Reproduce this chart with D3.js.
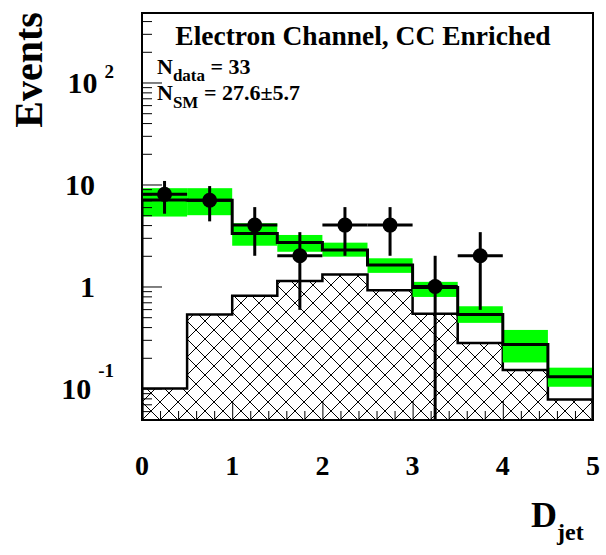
<!DOCTYPE html>
<html><head><meta charset="utf-8">
<script src="https://cdn.jsdelivr.net/npm/d3@7"></script>
<style>body{margin:0;background:#fff}svg{display:block}</style>
</head><body><svg id="c" width="606" height="555"></svg>
<script>
// ---- data ----
const binEdges = [0, 0.5, 1, 1.5, 2, 2.5, 3, 3.5, 4, 4.5, 5];
const smTotal  = [7.05, 7.0, 3.3, 2.7, 2.28, 1.62, 0.98, 0.53, 0.27, 0.13];
const smUp     = [9.2, 9.2, 4.17, 3.2, 2.69, 1.89, 1.11, 0.64, 0.375, 0.16];
const smDown   = [4.85, 5.0, 2.51, 2.19, 1.96, 1.36, 0.79, 0.44, 0.18, 0.104];
const bkgCC    = [0.1, 0.53, 0.81, 1.13, 1.31, 0.92, 0.54, 0.28, 0.152, 0.078];
const dataLo   = [0, 0.5, 1, 1.5, 2, 2.5, 3, 3.5];
const dataHi   = [0.5, 1, 1.5, 2, 2.5, 3, 3.5, 4];
const dataX    = [0.25, 0.75, 1.25, 1.75, 2.25, 2.75, 3.25, 3.75];
const dataN    = [8, 7, 4, 2, 4, 4, 1, 2];
const dataErr  = [2.83, 2.65, 2, 1.41, 2, 2, 1, 1.41];
const xTickVals = [0, 1, 2, 3, 4, 5];
const xTickLabels = ["0", "1", "2", "3", "4", "5"];
const yMajorVals = [0.1, 1, 10, 100];
const yTickBase = ["10", "1", "10", "10"];
const yTickExp  = ["-1", "", "", "2"];
const titleText = "Electron Channel, CC Enriched";

// ---- layout ----
const L = 142, R = 593, T = 13, B = 420;
const serif = "'Liberation Serif','Times New Roman',Times,serif";
const svg = d3.select("#c");
const x = d3.scaleLinear().domain([0, 5]).range([L, R]);
const y = d3.scaleLog().domain([0.0491, 480]).range([B, T]);
const yMin = y.domain()[0];

const defs = svg.append("defs");
defs.append("clipPath").attr("id", "frame")
  .append("rect").attr("x", L).attr("y", T).attr("width", R - L).attr("height", B - T);
const pat = defs.append("pattern").attr("id", "hatch")
  .attr("patternUnits", "userSpaceOnUse").attr("width", 18).attr("height", 18)
  .attr("x", L).attr("y", B);
pat.append("path").attr("d", "M-2,-2L20,20M20,-2L-2,20")
  .attr("stroke", "#000").attr("stroke-width", 1).attr("fill", "none");

const g = svg.append("g").attr("clip-path", "url(#frame)");

function steps(vals) {
  return vals.flatMap((v, i) => [[binEdges[i], v], [binEdges[i + 1], v]]);
}

// hatched CC background
const bkgPts = steps(bkgCC);
g.append("path").datum(bkgPts)
  .attr("d", d3.area().x(d => x(d[0])).y0(B).y1(d => y(d[1])))
  .attr("fill", "url(#hatch)");
g.append("path").datum([[0, yMin], ...bkgPts, [5, yMin]])
  .attr("d", d3.line().x(d => x(d[0])).y(d => y(d[1])))
  .attr("fill", "none").attr("stroke", "#000").attr("stroke-width", 2.5);

// green uncertainty band
g.selectAll("rect.band").data(smUp).join("rect").attr("class", "band")
  .attr("x", (d, i) => x(binEdges[i]))
  .attr("width", (d, i) => x(binEdges[i + 1]) - x(binEdges[i]))
  .attr("y", d => y(d))
  .attr("height", (d, i) => y(smDown[i]) - y(d))
  .attr("fill", "#00ff00");

// SM total
const smPts = steps(smTotal);
g.append("path").datum([[0, yMin], ...smPts, [5, yMin]])
  .attr("d", d3.line().x(d => x(d[0])).y(d => y(d[1])))
  .attr("fill", "none").attr("stroke", "#000").attr("stroke-width", 3);

// data points
const pts = g.append("g");
dataN.forEach((n, i) => {
  const lo = Math.max(n - dataErr[i], yMin);
  pts.append("line").attr("x1", x(dataX[i])).attr("x2", x(dataX[i]))
    .attr("y1", y(n + dataErr[i])).attr("y2", y(lo))
    .attr("stroke", "#000").attr("stroke-width", 3);
  pts.append("line").attr("x1", x(dataLo[i])).attr("x2", x(dataHi[i]))
    .attr("y1", y(n)).attr("y2", y(n))
    .attr("stroke", "#000").attr("stroke-width", 3);
  pts.append("circle").attr("cx", x(dataX[i])).attr("cy", y(n)).attr("r", 7.5).attr("fill", "#000");
});

// ---- axes (ticks inside frame) ----
const yMinor = y.ticks().filter(v => !yMajorVals.some(m => Math.abs(m - v) < 1e-9));
function clean(sel) { sel.select(".domain").remove(); sel.selectAll("text").remove();
  sel.selectAll("line").attr("stroke", "#000").attr("stroke-width", 1); }
svg.append("g").attr("transform", `translate(${L},0)`)
  .call(d3.axisRight(y).tickValues(yMajorVals).tickSize(20)).call(clean);
svg.append("g").attr("transform", `translate(${L},0)`)
  .call(d3.axisRight(y).tickValues(yMinor).tickSize(10)).call(clean);
const xMinor = d3.range(1, 25).map(k => k * 0.2).filter(v => Math.abs(v - Math.round(v)) > 1e-6);
svg.append("g").attr("transform", `translate(0,${B})`)
  .call(d3.axisTop(x).tickValues(xTickVals).tickSize(19)).call(clean);
svg.append("g").attr("transform", `translate(0,${B})`)
  .call(d3.axisTop(x).tickValues(xMinor).tickSize(9)).call(clean);

// frame
svg.append("rect").attr("x", L).attr("y", T).attr("width", R - L).attr("height", B - T)
  .attr("fill", "none").attr("stroke", "#000").attr("stroke-width", 2);

// ---- labels ----
const txt = (xx, yy, size) => svg.append("text").attr("x", xx).attr("y", yy)
  .attr("font-family", serif).attr("font-weight", "bold").attr("font-size", size).attr("fill", "#000");

xTickVals.forEach((v, i) => txt(x(v), 475, 28).attr("text-anchor", "middle").text(xTickLabels[i]));

yMajorVals.forEach((v, i) => {
  const base = y(v) + 10.5;
  if (yTickExp[i]) {
    const t = txt(114, base, 30).attr("text-anchor", "end");
    t.append("tspan").text(yTickBase[i]);
    t.append("tspan").attr("font-size", 19).attr("dx", 7)
      .attr("dy", yTickExp[i].startsWith("-") ? -22 : -15).text(yTickExp[i]);
  } else {
    txt(95, base, 30).attr("text-anchor", "end").text(yTickBase[i]);
  }
});

txt(0, 0, 40).attr("text-anchor", "middle").attr("transform", "translate(42,70) rotate(-90)").text("Events");

const xl = txt(531, 527, 36);
xl.append("tspan").text("D");
xl.append("tspan").attr("font-size", 24).attr("dy", 13).text("jet");

txt(363, 45, 27.5).attr("text-anchor", "middle").text(titleText);

const n1 = txt(157, 74, 22);
n1.append("tspan").text("N");
n1.append("tspan").attr("font-size", 17).attr("dy", 7).text("data");
n1.append("tspan").attr("dy", -7).text(" = 33");
const n2 = txt(157, 100, 22);
n2.append("tspan").text("N");
n2.append("tspan").attr("font-size", 17).attr("dy", 8).text("SM");
n2.append("tspan").attr("dy", -8).text(" = 27.6±5.7");
</script>
</body></html>
